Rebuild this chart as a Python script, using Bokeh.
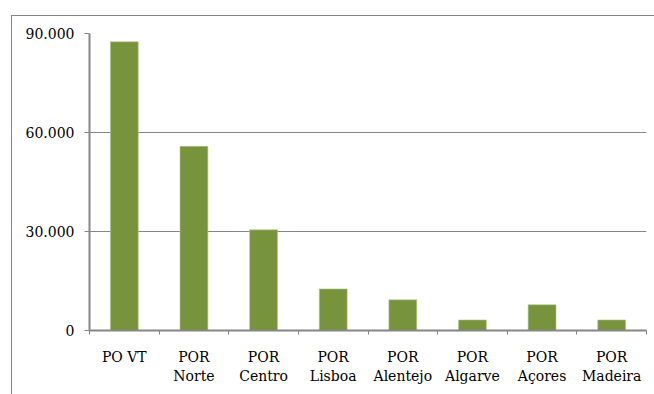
from bokeh.plotting import figure
from bokeh.models import FixedTicker, Range1d
from bokeh.embed import file_html
from bokeh.resources import INLINE
import numpy as np

categories = ["PO VT", "POR\nNorte", "POR\nCentro", "POR\nLisboa",
              "POR\nAlentejo", "POR\nAlgarve", "POR\nAçores", "POR\nMadeira"]
values = [87500, 55800, 30500, 12600, 9300, 3200, 7800, 3200]
y_ticks = [0, 30000, 60000, 90000]
y_tick_labels = ["0", "30.000", "60.000", "90.000"]

GRAY = "#868686"
FONT = "DejaVu Serif"

n = len(categories)
xs = np.arange(n) + 0.5

p = figure(width=643, height=379, output_backend="svg", toolbar_location=None,
           x_range=Range1d(0, n), y_range=Range1d(0, 90000),
           min_border_left=77, min_border_right=9, min_border_top=17, min_border_bottom=65)
p.styles = {"margin-left": "11px", "margin-top": "15px",
            "border-left": "1px solid " + GRAY, "border-top": "1px solid " + GRAY}
p.outline_line_color = None
p.background_fill_color = "white"
p.border_fill_color = "white"

p.vbar(x=xs, top=values, width=0.4, fill_color="#77933C", line_color="#b5c98e", line_width=0.6)

# x axis
p.xaxis.ticker = FixedTicker(ticks=list(xs), minor_ticks=list(range(n + 1)))
p.xaxis.major_label_overrides = {float(x): c for x, c in zip(xs, categories)}
p.xaxis.major_tick_line_color = None
p.xaxis.major_tick_out = 0
p.xaxis.major_tick_in = 0
p.xaxis.minor_tick_line_color = GRAY
p.xaxis.minor_tick_line_width = 1
p.xaxis.minor_tick_out = 4
p.xaxis.minor_tick_in = 0
p.xaxis.axis_line_color = GRAY
p.xaxis.axis_line_width = 2
p.xaxis.major_label_text_font = FONT
p.xaxis.major_label_text_font_size = "14px"
p.xaxis.major_label_text_color = "black"
p.xaxis.major_label_standoff = 14
p.xaxis.major_label_text_line_height = 1.2

# y axis
p.yaxis.ticker = FixedTicker(ticks=y_ticks, minor_ticks=[])
p.yaxis.major_label_overrides = {t: l for t, l in zip(y_ticks, y_tick_labels)}
p.yaxis.major_tick_line_color = GRAY
p.yaxis.major_tick_out = 5
p.yaxis.major_tick_in = 0
p.yaxis.axis_line_color = GRAY
p.yaxis.axis_line_width = 2
p.yaxis.major_label_text_font = FONT
p.yaxis.major_label_text_font_size = "14px"
p.yaxis.major_label_text_color = "black"
p.yaxis.major_label_standoff = 10

p.xgrid.grid_line_color = None
p.ygrid.grid_line_color = GRAY
p.ygrid.grid_line_width = 1

open("out.html", "w").write(file_html(p, INLINE))
